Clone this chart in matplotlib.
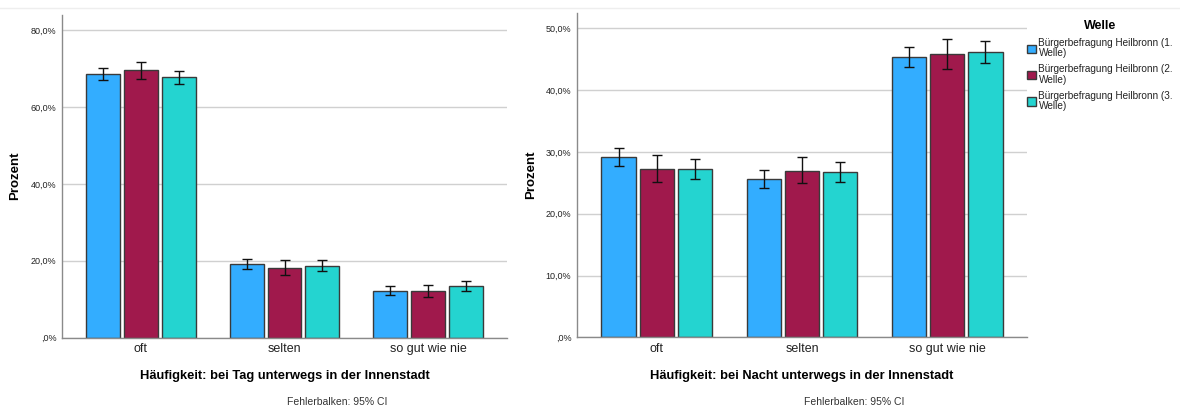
import matplotlib
matplotlib.use("Agg")
import matplotlib.pyplot as plt
import numpy as np
from matplotlib.patches import Patch
from matplotlib.ticker import FuncFormatter

plt.rcParams['font.family'] = ['Liberation Sans', 'DejaVu Sans']

categories = ["oft", "selten", "so gut wie nie"]
series = ["Bürgerbefragung Heilbronn (1.\nWelle)",
          "Bürgerbefragung Heilbronn (2.\nWelle)",
          "Bürgerbefragung Heilbronn (3.\nWelle)"]
colors = ["#33ADFF", "#A0194C", "#24D4D0"]

# Tag (day)
tag_vals = [[68.6, 19.1, 12.2],
            [69.7, 18.1, 12.0],
            [67.8, 18.7, 13.4]]
tag_lo = [[67.0, 17.9, 11.1],
          [67.4, 16.4, 10.5],
          [66.1, 17.3, 12.2]]
tag_hi = [[70.1, 20.5, 13.3],
          [71.8, 20.1, 13.6],
          [69.5, 20.1, 14.7]]

# Nacht (night)
nacht_vals = [[29.2, 25.6, 45.3],
              [27.2, 27.0, 45.9],
              [27.2, 26.7, 46.2]]
nacht_lo = [[27.7, 24.2, 43.7],
            [25.1, 24.9, 43.5],
            [25.6, 25.1, 44.4]]
nacht_hi = [[30.7, 27.1, 47.0],
            [29.5, 29.2, 48.3],
            [28.9, 28.3, 48.0]]

W, H = 1180, 407
fig = plt.figure(figsize=(W / 100, H / 100), dpi=100)

def fmt(v, pos):
    if v == 0:
        return ",0%"
    return f"{v:.1f}%".replace(".", ",")

def panel(rect, vals, lo, hi, ymax, ticks, xlabel, note_x):
    ax = fig.add_axes(rect)
    x = np.arange(len(categories))
    step = 0.264
    width = 0.236
    for i in range(len(series)):
        v = np.array(vals[i])
        err = np.array([v - np.array(lo[i]), np.array(hi[i]) - v])
        ax.bar(x + (i - 1) * step, v, width, color=colors[i],
               edgecolor="#3a3a3a", linewidth=1.0, zorder=2)
        ax.errorbar(x + (i - 1) * step, v, yerr=err, fmt="none",
                    ecolor="#111111", elinewidth=1.0, capsize=3.6,
                    capthick=1.0, zorder=3)
    ax.set_xlim(-0.55, 2.55)
    ax.set_ylim(0, ymax)
    ax.set_yticks(ticks)
    ax.yaxis.set_major_formatter(FuncFormatter(fmt))
    ax.set_xticks(x)
    ax.set_xticklabels(categories, fontsize=9, color="#222222")
    ax.tick_params(axis="y", length=0, labelsize=6.5, pad=4, labelcolor="#222222")
    ax.tick_params(axis="x", length=0, pad=4)
    ax.grid(axis="y", color="#d0d0d0", linewidth=1.0, zorder=0)
    ax.set_axisbelow(True)
    for s in ["top", "right"]:
        ax.spines[s].set_visible(False)
    ax.spines["left"].set_color("#8a8a8a")
    ax.spines["bottom"].set_color("#8a8a8a")
    ax.spines["left"].set_linewidth(1.0)
    ax.spines["bottom"].set_linewidth(1.0)
    ax.set_xlabel(xlabel, fontsize=9.3, fontweight="bold", labelpad=11)
    ax.set_ylabel("Prozent", fontsize=9.5, fontweight="bold")
    fig.text(note_x / W, 1 - 402 / H, "Fehlerbalken: 95% CI", fontsize=7.5,
             ha="center", va="center", color="#333333")
    return ax

ax1 = panel([62 / W, 1 - 337.5 / H, 445 / W, (337.5 - 15) / H],
            tag_vals, tag_lo, tag_hi, 84.0, [0, 20, 40, 60, 80],
            "Häufigkeit: bei Tag unterwegs in der Innenstadt", 337)
ax1.yaxis.set_label_coords(-0.092, 0.5)

ax2 = panel([577 / W, 1 - 337.3 / H, 450 / W, (337.3 - 13) / H],
            nacht_vals, nacht_lo, nacht_hi, 52.5, [0, 10, 20, 30, 40, 50],
            "Häufigkeit: bei Nacht unterwegs in der Innenstadt", 854)
ax2.yaxis.set_label_coords(-0.089, 0.5)

# faint top separator line
fig.add_artist(plt.Line2D([0, 1], [1 - 8 / H, 1 - 8 / H], color="#eeeeee",
                          linewidth=1.0, transform=fig.transFigure))

handles = [Patch(facecolor=c, edgecolor="#3a3a3a", linewidth=1.0) for c in colors]
leg = fig.legend(handles, series, loc="upper left",
                 bbox_to_anchor=(1020 / W, 1 - 13 / H), frameon=False,
                 fontsize=7.2, title="Welle", handlelength=0.9, handleheight=0.9,
                 handletextpad=0.25, labelspacing=0.6, borderpad=0.2)
leg.get_title().set_fontweight("bold")
leg.get_title().set_fontsize(9)
for t in leg.get_texts():
    t.set_linespacing(1.05)
    t.set_color("#222222")

fig.savefig("out.png", dpi=100)
